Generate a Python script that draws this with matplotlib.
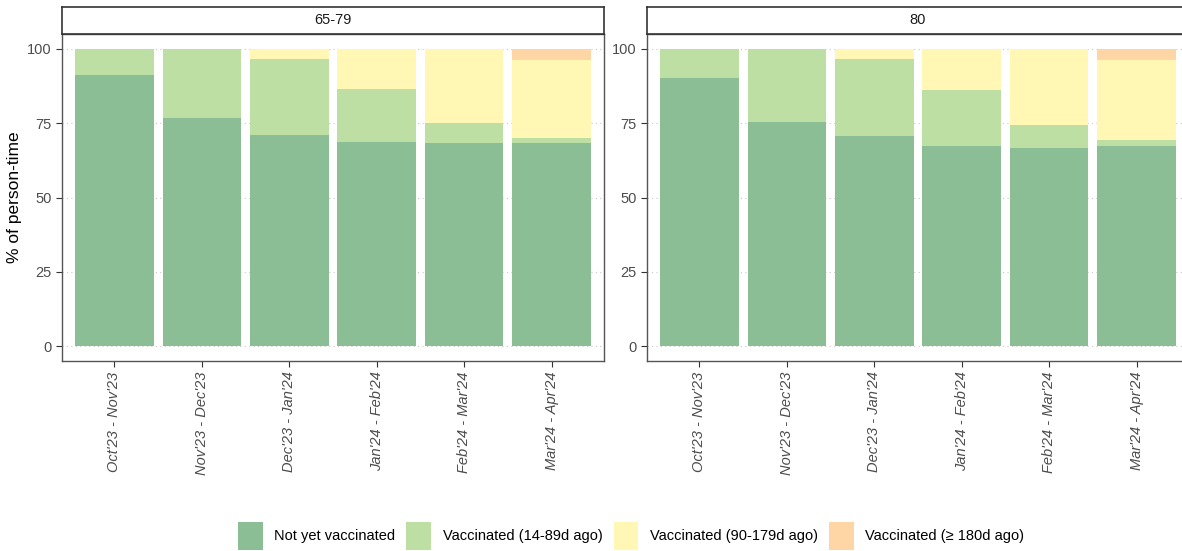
import matplotlib.pyplot as plt
from matplotlib.patches import Patch
import numpy as np

plt.rcParams['font.family'] = ['Liberation Sans', 'DejaVu Sans']

periods = ["Oct'23 - Nov'23", "Nov'23 - Dec'23", "Dec'23 - Jan'24",
           "Jan'24 - Feb'24", "Feb'24 - Mar'24", "Mar'24 - Apr'24"]
groups = ["65-79", "80"]
categories = ["Not yet vaccinated", "Vaccinated (14-89d ago)",
              "Vaccinated (90-179d ago)", "Vaccinated (\u2265 180d ago)"]
colors = ["#8bbe95", "#bddfa4", "#fff7b3", "#fed6a5"]

# % of person-time per category, one list per age group
not_yet_6579 = [91.2, 76.8, 71.0, 68.7, 68.2, 68.2]
v14_89_6579 = [8.8, 23.2, 25.6, 17.8, 6.9, 1.7]
v90_179_6579 = [0.0, 0.0, 3.4, 13.5, 24.9, 26.4]
v180_6579 = [0.0, 0.0, 0.0, 0.0, 0.0, 3.7]

not_yet_80 = [90.2, 75.4, 70.7, 67.3, 66.8, 67.3]
v14_89_80 = [9.8, 24.6, 25.9, 18.9, 7.5, 2.1]
v90_179_80 = [0.0, 0.0, 3.4, 13.8, 25.7, 26.7]
v180_80 = [0.0, 0.0, 0.0, 0.0, 0.0, 3.9]

data = {
    "65-79": [not_yet_6579, v14_89_6579, v90_179_6579, v180_6579],
    "80": [not_yet_80, v14_89_80, v90_179_80, v180_80],
}

W, H = 1182, 551
fig = plt.figure(figsize=(W / 100, H / 100), dpi=100)

panel_left = [62, 647]
panel_w = 542
top, bottom = 34, 361
strip_top = 7

x = np.arange(1, len(periods) + 1)
for gi, g in enumerate(groups):
    ax = fig.add_axes([panel_left[gi] / W, (H - bottom) / H, panel_w / W, (bottom - top) / H])
    base = np.zeros(len(periods))
    for vals, c in zip(data[g], colors):
        ax.bar(x, vals, bottom=base, width=0.9, color=c, zorder=2)
        base += np.array(vals)
    ax.set_xlim(0.4, 6.6)
    ax.set_ylim(-5, 105)
    ax.set_yticks([0, 25, 50, 75, 100])
    ax.set_xticks(x)
    ax.set_xticklabels(periods, rotation=90, style='italic', ha='center', va='top')
    ax.grid(axis='y', color='#c8c8c8', linestyle=(0, (1, 3)), linewidth=0.8, zorder=0)
    ax.tick_params(colors='#333333', labelcolor='#4d4d4d', labelsize=10.5, length=4, width=0.8)
    for s in ax.spines.values():
        s.set_color('#555555')
        s.set_linewidth(1)
    if gi == 0:
        ax.set_ylabel('% of person-time', fontsize=12.5, color='black', va='center')
        ax.yaxis.set_label_coords((15 - panel_left[0]) / panel_w, 0.5)

    sax = fig.add_axes([panel_left[gi] / W, (H - top) / H, panel_w / W, (top - strip_top) / H])
    sax.set_xticks([])
    sax.set_yticks([])
    for s in sax.spines.values():
        s.set_color('#333333')
        s.set_linewidth(1.2)
    sax.text(0.5, 0.5, g, ha='center', va='center', fontsize=10.5, color='#1a1a1a',
             transform=sax.transAxes)

handles = [Patch(facecolor=c, edgecolor='none', label=l) for c, l in zip(colors, categories)]
fig.legend(handles=handles, loc='center', bbox_to_anchor=(0.534, 1 - 536 / H), ncol=4,
           frameon=False, fontsize=10.5, handlelength=1.7, handleheight=2.6,
           columnspacing=0.75, handletextpad=0.8)

fig.savefig('out.png', dpi=100)
